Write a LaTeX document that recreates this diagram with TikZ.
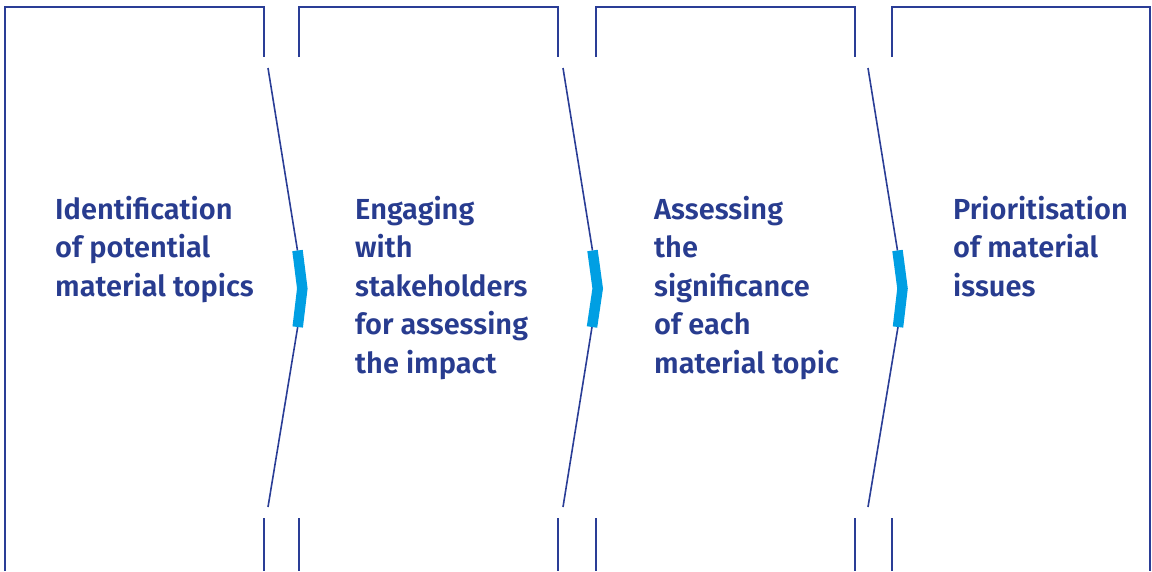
\documentclass[tikz,border=0pt]{standalone}
\usepackage{fontspec}
\setmainfont{Fira Sans}[BoldFont={Fira Sans SemiBold}]
\definecolor{navy}{HTML}{283C8F}
\definecolor{linec}{HTML}{2A3D96}
\definecolor{cyanb}{HTML}{009FE3}
\begin{document}
\begin{tikzpicture}[x=1pt,y=-1pt,
  frame/.style={draw=linec,line width=2pt},
  diag/.style={draw=linec,line width=1.6pt},
  chev/.style={draw=cyanb,line width=10.5pt,line cap=butt,line join=miter},
  lbl/.style={anchor=base west,inner sep=0pt,align=left,text=navy,font=\fontsize{29}{38.5}\selectfont\bfseries}]
\useasboundingbox (0,0) rectangle (1152,571);
% panel 1
\draw[frame] (4.5,571) -- (4.5,7) -- (264,7) -- (264,57);
\draw[frame] (264,518) -- (264,571);
% panel 2
\draw[frame] (299,57) -- (299,7) -- (558,7) -- (558,57);
\draw[frame] (299,518) -- (299,571);
\draw[frame] (558,518) -- (558,571);
% panel 3
\draw[frame] (596,57) -- (596,7) -- (855,7) -- (855,57);
\draw[frame] (596,518) -- (596,571);
\draw[frame] (855,518) -- (855,571);
% panel 4
\draw[frame] (892,57) -- (892,7) -- (1150,7) -- (1150,571);
\draw[frame] (892,518) -- (892,571);
% chevrons and connectors
\coordinate (a1) at (268,68);   \coordinate (c1t) at (297.5,250.5);
\coordinate (c1m) at (302.3,288.5); \coordinate (c1b) at (297.7,327);
\coordinate (b1) at (268,507);
\coordinate (a2) at (563,68);   \coordinate (c2t) at (592.5,250.5);
\coordinate (c2m) at (597.7,288.5); \coordinate (c2b) at (592,327);
\coordinate (b2) at (563,507);
\coordinate (a3) at (868,68);   \coordinate (c3t) at (897.5,250.5);
\coordinate (c3m) at (902.5,288.5); \coordinate (c3b) at (898,327);
\coordinate (b3) at (868,507);
\foreach \i in {1,2,3}{
  \draw[diag] (a\i) -- (c\i t);
  \draw[diag] (c\i b) -- (b\i);
  \draw[chev] (c\i t) -- (c\i m) -- (c\i b);
}
% labels (base anchor = baseline of last line)
\node[lbl] (t1) at (55,296) {Identification\\of potential\\material topics};
\node[lbl] (t2) at (355,373) {Engaging\\with\\stakeholders\\for assessing\\the impact};
\node[lbl] (t3) at (654,373) {Assessing\\the\\significance\\of each\\material topic};
\node[lbl] (t4) at (953,296) {Prioritisation\\of material\\issues};
\end{tikzpicture}
\end{document}
